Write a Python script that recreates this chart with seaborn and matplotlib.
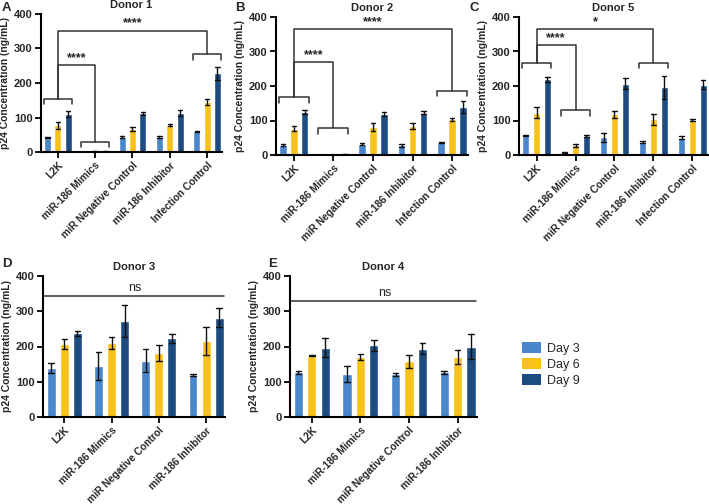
import numpy as np
import pandas as pd
import matplotlib
matplotlib.use("Agg")
import matplotlib.pyplot as plt
import seaborn as sns
from matplotlib.patches import Patch

sns.set_style("ticks")
plt.rcParams['font.family'] = ['Liberation Sans', 'DejaVu Sans']

days = ["Day 3", "Day 6", "Day 9"]
colors = ["#4A86CC", "#F8C21A", "#1D4C80"]

cats5 = ["L2K", "miR-186 Mimics", "miR Negative Control", "miR-186 Inhibitor", "Infection Control"]
cats4 = ["L2K", "miR-186 Mimics", "miR Negative Control", "miR-186 Inhibitor"]

# Donor 1 (A): means per day, rows = categories
d1_mean = [[42, 78, 110], [0, 2, 2], [43, 67, 112], [43, 79, 113], [60, 145, 228]]
d1_err = [[2, 10, 8], [0, 1, 1], [2, 6, 5], [3, 3, 8], [2, 8, 18]]
# Donor 2 (B)
d2_mean = [[30, 76, 125], [0, 0, 2], [32, 82, 118], [28, 84, 123], [37, 103, 140]]
d2_err = [[3, 7, 6], [0, 0, 1], [3, 12, 6], [4, 8, 5], [2, 3, 17]]
# Donor 5 (C)
d5_mean = [[56, 122, 219], [8, 28, 55], [51, 118, 206], [38, 104, 196], [50, 101, 204]]
d5_err = [[2, 16, 6], [2, 4, 4], [12, 10, 16], [4, 16, 33], [5, 3, 12]]
# Donor 3 (D)
d3_mean = [[139, 207, 237], [145, 210, 273], [160, 181, 223], [118, 216, 282]]
d3_err = [[13, 15, 8], [39, 16, 45], [33, 22, 12], [3, 40, 28]]
# Donor 4 (E)
d4_mean = [[127, 174, 197], [123, 170, 203], [121, 158, 194], [127, 171, 200]]
d4_err = [[4, 2, 27], [23, 8, 15], [4, 19, 15], [4, 20, 35]]


def long_df(cats, means, errs):
    rows = []
    for c, m_row, e_row in zip(cats, means, errs):
        for d, m, e in zip(days, m_row, e_row):
            rows.append((c, d, m - e))
            rows.append((c, d, m + e))
    return pd.DataFrame(rows, columns=["cat", "day", "val"])


W, H = 709, 504
fig = plt.figure(figsize=(W / 100, H / 100), dpi=100)


def make_ax(left, right, top, bottom):
    return fig.add_axes([left / W, 1 - bottom / H, (right - left) / W, (bottom - top) / H])


def draw(ax, cats, means, errs, title, letter, lx, ly):
    df = long_df(cats, means, errs)
    sns.barplot(data=df, x="cat", y="val", hue="day", order=cats, hue_order=days,
                palette=colors, errorbar=("pi", 100), capsize=0.35, width=0.83, gap=0.32,
                err_kws={"color": "#111111", "linewidth": 1.0}, saturation=1, ax=ax, legend=False)
    ax.set_ylim(0, 400)
    ax.set_yticks([0, 100, 200, 300, 400])
    n = len(cats)
    ax.set_xlim(-0.45, n - 0.6)
    ax.set_xlabel("")
    ax.set_ylabel("p24 Concentration (ng/mL)", fontsize=7.5, fontweight="bold", labelpad=3)
    ax.set_xticks(range(n))
    ax.set_xticklabels(cats, rotation=45, ha="right", rotation_mode="anchor",
                       fontsize=7.3, fontweight="bold")
    for t in ax.get_yticklabels():
        t.set_fontweight("bold")
        t.set_fontsize(8)
    ax.tick_params(axis="both", width=1.3, length=4, pad=2, color="black")
    for s in ["top", "right"]:
        ax.spines[s].set_visible(False)
    for s in ["left", "bottom"]:
        ax.spines[s].set_linewidth(1.5)
        ax.spines[s].set_color("black")
    ax.set_title(title, fontsize=8, fontweight="bold", pad=4)
    fig.text(lx / W, 1 - ly / H, letter, fontsize=9.5, fontweight="bold", va="top", ha="left")


def bracket(ax, xc, y, h=15, half=0.38):
    ax.plot([xc - half, xc - half, xc + half, xc + half], [y - h, y, y, y - h],
            color="#333333", lw=1.1, clip_on=False)


def compare(ax, x1, y1, x2, y2, ytop, label):
    ax.plot([x1, x1, x2, x2], [y1, ytop, ytop, y2], color="#333333", lw=1.1, clip_on=False)
    ax.text((x1 + x2) / 2, ytop + 3, label, ha="center", va="bottom", fontsize=9, fontweight="bold")


# Panel A
axA = make_ax(41, 222, 14, 152)
draw(axA, cats5, d1_mean, d1_err, "Donor 1", "A", 2, 2)
bracket(axA, 0, 153)
bracket(axA, 1, 30)
bracket(axA, 4, 283)
compare(axA, 0, 153, 1, 30, 252, "****")
compare(axA, 0, 153, 4, 283, 352, "****")

# Panel B
axB = make_ax(276, 468, 17, 155)
draw(axB, cats5, d2_mean, d2_err, "Donor 2", "B", 235, 2)
bracket(axB, 0, 167)
bracket(axB, 1, 77)
bracket(axB, 4, 185)
compare(axB, 0, 167, 1, 77, 270, "****")
compare(axB, 0, 167, 4, 185, 366, "****")

# Panel C
axC = make_ax(519, 708, 17, 155)
draw(axC, cats5, d5_mean, d5_err, "Donor 5", "C", 470, 2)
bracket(axC, 0, 268)
bracket(axC, 1, 129)
bracket(axC, 3, 268)
compare(axC, 0, 268, 1, 129, 318, "****")
compare(axC, 0, 268, 3, 268, 366, "*")

# Panel D
axD = make_ax(43, 225, 276, 417)
draw(axD, cats4, d3_mean, d3_err, "Donor 3", "D", 2, 258)
axD.plot([-0.42, 3.38], [343, 343], color="#333333", lw=1.1)
axD.text(1.5, 350, "ns", ha="center", va="bottom", fontsize=9)

# Panel E
axE = make_ax(290, 477, 276, 417)
draw(axE, cats4, d4_mean, d4_err, "Donor 4", "E", 268, 258)
axE.plot([-0.42, 3.38], [329, 329], color="#333333", lw=1.1)
axE.text(1.5, 336, "ns", ha="center", va="bottom", fontsize=9)

handles = [Patch(facecolor=c, edgecolor="none", label=d) for c, d in zip(colors, days)]
fig.legend(handles=handles, loc="upper left", bbox_to_anchor=(517 / W, 1 - 337 / H),
           frameon=False, fontsize=9, handlelength=1.5, handleheight=1.0,
           handletextpad=0.5, labelspacing=0.25, borderaxespad=0)

fig.savefig("out.png", dpi=100)
